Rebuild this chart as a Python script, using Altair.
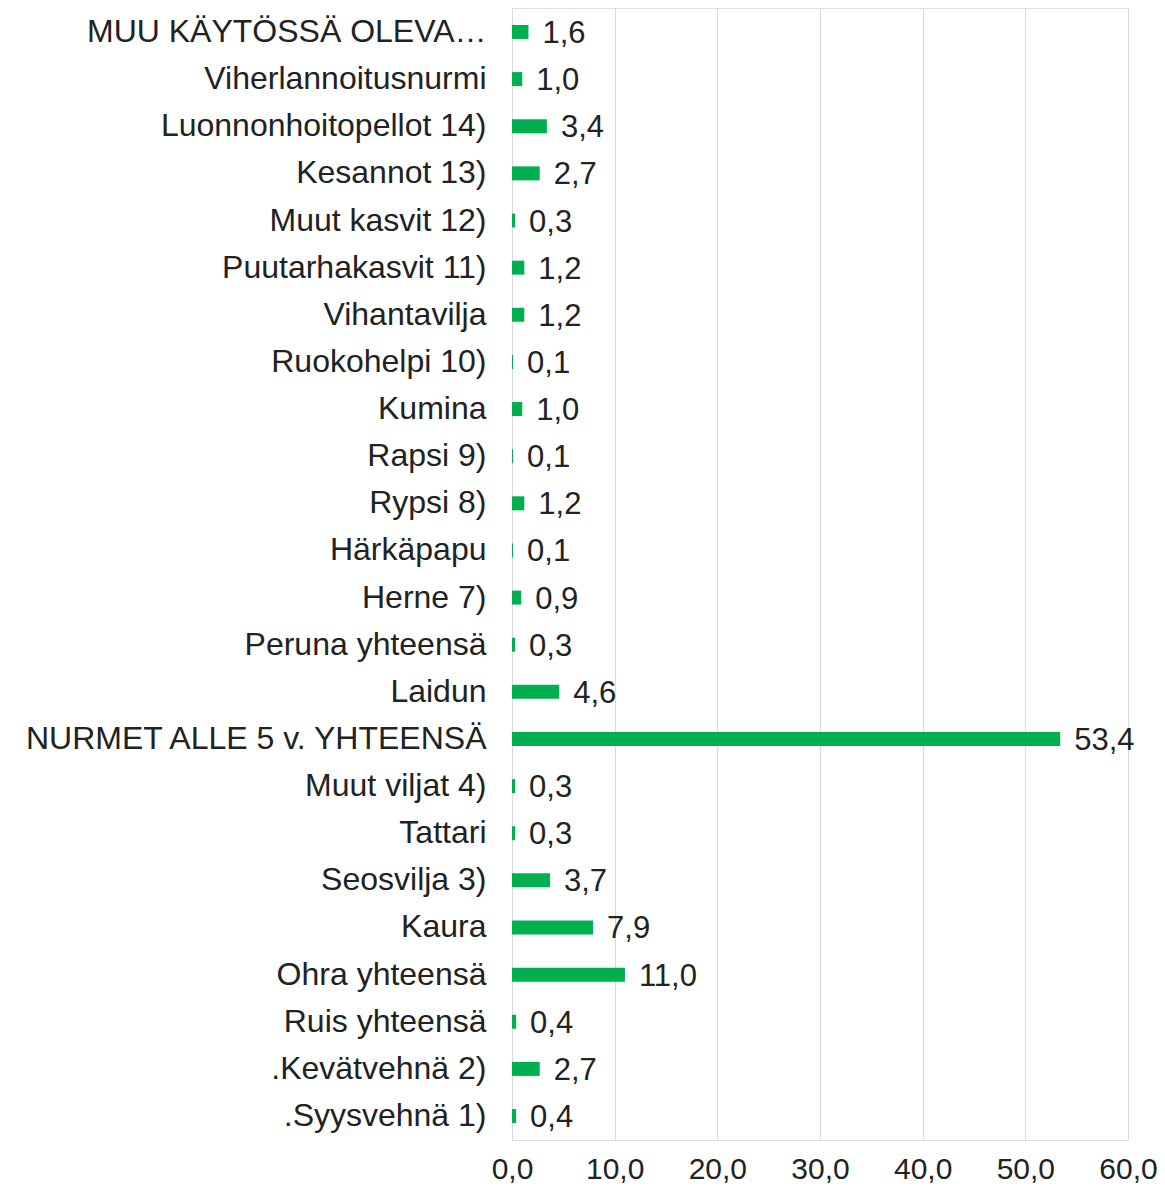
import altair as alt
import pandas as pd

categories = [
    "MUU KÄYTÖSSÄ OLEVA…",
    "Viherlannoitusnurmi",
    "Luonnonhoitopellot 14)",
    "Kesannot 13)",
    "Muut kasvit 12)",
    "Puutarhakasvit 11)",
    "Vihantavilja",
    "Ruokohelpi 10)",
    "Kumina",
    "Rapsi 9)",
    "Rypsi 8)",
    "Härkäpapu",
    "Herne 7)",
    "Peruna yhteensä",
    "Laidun",
    "NURMET ALLE 5 v. YHTEENSÄ",
    "Muut viljat 4)",
    "Tattari",
    "Seosvilja 3)",
    "Kaura",
    "Ohra yhteensä",
    "Ruis yhteensä",
    ".Kevätvehnä 2)",
    ".Syysvehnä 1)",
]
values = [1.6, 1.0, 3.4, 2.7, 0.3, 1.2, 1.2, 0.1, 1.0, 0.1, 1.2, 0.1, 0.9, 0.3,
          4.6, 53.4, 0.3, 0.3, 3.7, 7.9, 11.0, 0.4, 2.7, 0.4]
x_ticks = [0, 10, 20, 30, 40, 50, 60]

df = pd.DataFrame({"cat": categories, "val": values})

FONT = "Liberation Sans"
FS_CAT = 32
FS_NUM = 31
FS_TICK = 30
TXT = "#222222"

y_enc = alt.Y(
    "cat:N",
    sort=categories,
    scale=alt.Scale(paddingInner=0.703, paddingOuter=0.36),
    axis=alt.Axis(
        title=None,
        domain=False,
        ticks=False,
        grid=False,
        labelFont=FONT,
        labelFontSize=FS_CAT,
        labelColor=TXT,
        labelPadding=26,
        labelLimit=600,
    ),
)

x_enc = alt.X(
    "val:Q",
    scale=alt.Scale(domain=[0, 60], nice=False),
    axis=alt.Axis(
        title=None,
        values=x_ticks,
        domain=False,
        ticks=False,
        grid=True,
        gridColor="#d9d9d9",
        gridWidth=1,
        labelFont=FONT,
        labelFontSize=FS_TICK,
        labelColor=TXT,
        labelPadding=14,
        labelFlush=False,
        labelOverlap=False,
        labelExpr="replace(format(datum.value, '.1f'), '.', ',')",
    ),
)

base = alt.Chart(df).encode(x=x_enc, y=y_enc)

bars = base.mark_bar(color="#00B050")

labels = (
    base.transform_calculate(lab="replace(format(datum.val, '.1f'), '.', ',')")
    .mark_text(align="left", baseline="middle", dx=14, dy=2, font=FONT,
               fontSize=FS_NUM, color=TXT)
    .encode(text="lab:N")
)

chart = (
    alt.layer(bars, labels)
    .properties(
        width=616,
        height=1132,
        autosize=alt.AutoSizeParams(type="none"),
        padding={"left": 504, "top": 0, "right": 29, "bottom": 46},
    )
    .configure_view(stroke="transparent", strokeWidth=0)
    .configure(background="white")
)

chart.save("out.html", embed_options={"renderer": "svg", "actions": False})
